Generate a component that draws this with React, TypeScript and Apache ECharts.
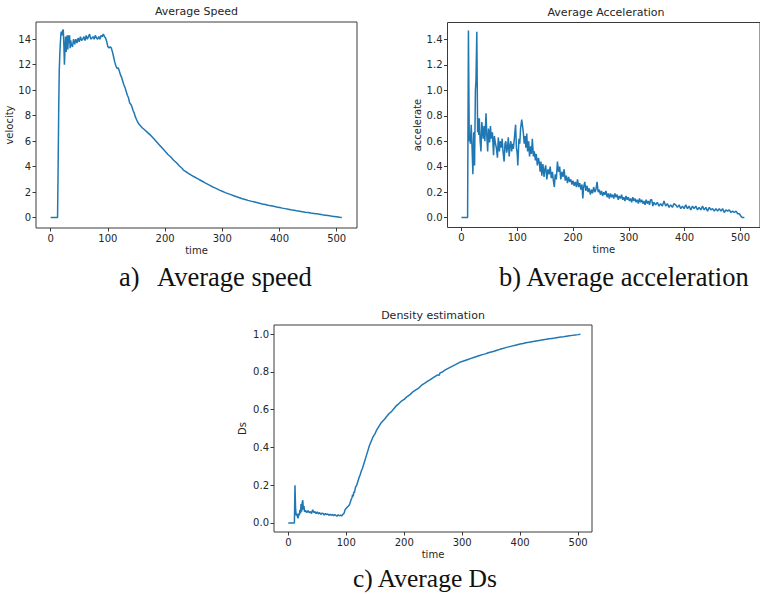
import React, { useEffect, useRef } from "react";
import * as echarts from "echarts";

// time vs average speed
const speedSeries: [number, number][] = [
  [0, 0], [6, 0], [12, 0], [13, 4], [14, 8.5], [15, 11.6], [16, 12.9], [17, 13.8], [18, 14.5], [19, 14.6],
  [20, 14.3], [21, 14.7], [22, 14.75], [23, 13.6], [24, 12.0], [25, 13.2], [26, 14.2], [27, 13.0], [28, 13.7],
  [29, 14.3], [30, 13.2], [31, 14.3], [32, 13.7], [33, 14.3], [34, 13.3], [35, 13.9], [36, 13.6], [38, 13.4],
  [40, 14.0], [42, 13.6], [44, 14.0], [46, 13.7], [48, 14.1], [50, 13.8], [52, 14.2], [54, 13.9], [56, 14.0],
  [58, 14.2], [60, 13.9], [62, 14.3], [64, 14.0], [66, 14.2], [68, 14.4], [70, 14.0], [72, 14.1], [74, 14.2],
  [76, 14.0], [78, 14.3], [80, 14.1], [82, 14.0], [84, 14.2], [86, 14.0], [88, 14.3], [90, 14.2], [92, 14.4],
  [94, 14.2], [96, 14.1], [98, 13.8], [100, 13.4], [102, 13.3], [104, 13.4], [106, 13.3], [108, 13.0],
  [110, 12.6], [112, 12.2], [114, 11.9], [116, 11.7], [118, 11.75], [120, 11.5], [122, 11.2], [124, 11.0],
  [126, 10.7], [128, 10.4], [130, 10.2], [132, 9.9], [134, 9.6], [136, 9.4], [138, 9.0], [140, 8.9], [142, 8.7],
  [144, 8.4], [146, 8.2], [148, 7.9], [150, 7.7], [152, 7.5], [155, 7.3], [158, 7.15], [160, 7.05], [165, 6.85],
  [170, 6.65], [175, 6.45], [180, 6.2], [185, 5.95], [190, 5.7], [195, 5.45], [200, 5.2], [205, 4.95], [210, 4.75],
  [215, 4.5], [220, 4.3], [225, 4.05], [230, 3.85], [232, 3.72], [235, 3.65], [240, 3.48], [245, 3.35], [250, 3.22],
  [255, 3.1], [260, 2.97], [265, 2.85], [270, 2.72], [275, 2.6], [280, 2.48], [285, 2.37], [290, 2.27], [295, 2.15],
  [300, 2.06], [305, 1.96], [310, 1.88], [315, 1.8], [320, 1.71], [325, 1.63], [330, 1.56], [335, 1.48], [340, 1.42],
  [345, 1.35], [350, 1.29], [355, 1.24], [360, 1.18], [365, 1.12], [370, 1.07], [375, 1.03], [380, 0.97], [385, 0.93],
  [390, 0.88], [395, 0.83], [400, 0.79], [405, 0.74], [410, 0.7], [415, 0.66], [420, 0.61], [425, 0.57], [430, 0.53],
  [435, 0.5], [440, 0.46], [445, 0.42], [450, 0.39], [455, 0.35], [460, 0.32], [465, 0.29], [470, 0.26], [475, 0.22],
  [480, 0.19], [485, 0.16], [490, 0.12], [495, 0.09], [500, 0.06], [505, 0.02], [509, 0.0],
];

// time vs average acceleration
const accelSeries: [number, number][] = [
  [0, 0], [5, 0], [11, 0], [12.5, 1.47], [14, 0.6], [15, 0.65], [16, 0.58], [17.5, 0.73], [19, 0.55], [20.5, 0.34],
  [22, 0.67], [23.5, 0.41], [25, 1.0], [26, 1.07], [27.5, 1.46], [29, 0.67], [30, 0.78], [31, 0.65], [32, 0.78],
  [33.5, 0.6], [35, 0.52], [36.5, 0.75], [38, 0.68], [39, 0.62], [40.5, 0.72], [42, 0.6], [44, 0.82], [45.5, 0.64],
  [47, 0.52], [48.5, 0.7], [50.5, 0.59], [52, 0.72], [53.5, 0.62], [55.5, 0.67], [57.5, 0.49], [59, 0.64],
  [61, 0.58], [62.5, 0.55], [64.5, 0.47], [66, 0.63], [68, 0.52], [69.5, 0.6], [71.5, 0.55], [73, 0.62],
  [74.5, 0.52], [76.5, 0.44], [78, 0.58], [79.5, 0.6], [81, 0.51], [82.5, 0.55], [84, 0.63], [85.5, 0.48],
  [87, 0.56], [88.5, 0.6], [90, 0.52], [91.5, 0.58], [93, 0.54], [95, 0.63], [97, 0.73], [98.5, 0.55], [100, 0.5],
  [101, 0.41], [103, 0.62], [104.5, 0.58], [106, 0.7], [108, 0.77], [109.5, 0.72], [111, 0.66], [112.5, 0.58],
  [114, 0.64], [115.5, 0.55], [117, 0.66], [118.5, 0.52], [120.5, 0.6], [122, 0.48], [124, 0.56], [125.5, 0.5],
  [127, 0.62], [129, 0.48], [130.5, 0.52], [132.5, 0.45], [134, 0.5], [136, 0.41], [138, 0.47], [139.5, 0.43],
  [141, 0.36], [142.5, 0.44], [144, 0.33], [146, 0.42], [148, 0.32], [149.5, 0.38], [151, 0.41], [153, 0.3],
  [155, 0.38], [157, 0.34], [159, 0.4], [161, 0.31], [163, 0.36], [165, 0.28], [166.5, 0.24], [168, 0.34],
  [170, 0.3], [172, 0.44], [174, 0.36], [176, 0.4], [178, 0.3], [180, 0.36], [182, 0.32], [184, 0.38], [186, 0.29],
  [188, 0.33], [190, 0.27], [192, 0.32], [194, 0.28], [196, 0.3], [198, 0.26], [200, 0.29], [202, 0.25],
  [204, 0.28], [206, 0.24], [208, 0.3], [210, 0.24], [212, 0.27], [214, 0.22], [216, 0.26], [217.5, 0.15],
  [219, 0.24], [221, 0.28], [223, 0.21], [225, 0.25], [227, 0.2], [229, 0.23], [231, 0.18], [233, 0.22],
  [235, 0.19], [237, 0.24], [239, 0.2], [241, 0.22], [243, 0.28], [245, 0.2], [247, 0.22], [249, 0.18],
  [251, 0.21], [253, 0.17], [255, 0.2], [257, 0.18], [259, 0.21], [261, 0.16], [263, 0.19], [265, 0.15],
  [267, 0.19], [269, 0.16], [271, 0.18], [273, 0.15], [275, 0.19], [277, 0.16], [279, 0.18], [281, 0.14],
  [283, 0.17], [285, 0.15], [287, 0.18], [289, 0.14], [291, 0.16], [293, 0.13], [295, 0.17], [297, 0.14],
  [299, 0.16], [301, 0.13], [303, 0.15], [305, 0.12], [307, 0.16], [309, 0.13], [311, 0.15], [313, 0.12],
  [315, 0.14], [317, 0.11], [319, 0.15], [321, 0.12], [323, 0.14], [325, 0.11], [327, 0.13], [329, 0.1],
  [331, 0.14], [333, 0.11], [335, 0.13], [337, 0.1], [339, 0.14], [341, 0.14], [343, 0.09], [345, 0.12],
  [348, 0.1], [351, 0.12], [354, 0.09], [357, 0.11], [360, 0.09], [363, 0.13], [366, 0.09], [369, 0.11],
  [372, 0.08], [375, 0.1], [378, 0.08], [381, 0.11], [384, 0.1], [387, 0.08], [390, 0.1], [393, 0.07],
  [396, 0.09], [399, 0.07], [402, 0.1], [405, 0.07], [408, 0.09], [411, 0.06], [414, 0.09], [417, 0.07],
  [420, 0.09], [423, 0.06], [426, 0.08], [429, 0.06], [432, 0.09], [435, 0.06], [438, 0.08], [441, 0.05],
  [444, 0.08], [447, 0.06], [450, 0.07], [453, 0.05], [456, 0.07], [459, 0.05], [462, 0.07], [465, 0.05],
  [468, 0.07], [471, 0.04], [474, 0.06], [477, 0.05], [480, 0.06], [483, 0.04], [486, 0.05], [489, 0.04],
  [492, 0.05], [495, 0.03], [498, 0.03], [501, 0.01], [503, 0], [507, 0],
];

// time vs density estimation (Ds)
const densitySeries: [number, number][] = [
  [0, 0], [5, 0], [10.5, 0], [11.5, 0.2], [12.5, 0.08], [13.5, 0.04], [15, 0.05], [16, 0.03], [17, 0.026],
  [18, 0.05], [19, 0.04], [20, 0.07], [21, 0.05], [22, 0.1], [23, 0.06], [24, 0.11], [25, 0.12], [26, 0.07],
  [27, 0.09], [28, 0.06], [30, 0.065], [32, 0.055], [34, 0.065], [36, 0.055], [38, 0.06], [40, 0.05], [42, 0.07],
  [44, 0.055], [46, 0.06], [48, 0.05], [50, 0.058], [52, 0.048], [54, 0.055], [56, 0.045], [58, 0.052],
  [60, 0.05], [62, 0.042], [64, 0.05], [66, 0.044], [68, 0.048], [70, 0.04], [72, 0.046], [74, 0.042],
  [76, 0.045], [78, 0.038], [80, 0.044], [82, 0.04], [84, 0.036], [86, 0.043], [88, 0.038], [90, 0.042],
  [92, 0.037], [94, 0.045], [96, 0.05], [98, 0.07], [100, 0.078], [102, 0.085], [104, 0.09], [106, 0.1],
  [108, 0.12], [110, 0.135], [111, 0.15], [112, 0.14], [113, 0.165], [114, 0.16], [116, 0.19], [118, 0.2],
  [120, 0.22], [122, 0.24], [124, 0.255], [126, 0.275], [128, 0.29], [130, 0.31], [132, 0.33], [134, 0.35],
  [136, 0.37], [138, 0.39], [140, 0.41], [142, 0.425], [144, 0.44], [146, 0.455], [148, 0.465], [150, 0.475],
  [152, 0.49], [155, 0.505], [158, 0.52], [160, 0.53], [163, 0.54], [166, 0.55], [170, 0.565], [174, 0.58],
  [178, 0.59], [182, 0.605], [186, 0.62], [190, 0.63], [195, 0.645], [200, 0.655], [205, 0.67], [210, 0.68],
  [215, 0.695], [220, 0.705], [225, 0.715], [230, 0.73], [235, 0.74], [240, 0.75], [245, 0.76], [250, 0.77],
  [255, 0.78], [258, 0.785], [260, 0.782], [262, 0.795], [266, 0.8], [270, 0.81], [275, 0.818], [280, 0.826],
  [285, 0.834], [290, 0.842], [295, 0.85], [300, 0.856], [305, 0.861], [310, 0.866], [315, 0.872], [320, 0.877],
  [325, 0.882], [330, 0.887], [335, 0.892], [340, 0.896], [345, 0.902], [350, 0.906], [355, 0.91], [360, 0.915],
  [365, 0.92], [370, 0.924], [375, 0.929], [380, 0.933], [385, 0.937], [390, 0.94], [395, 0.944], [400, 0.948],
  [405, 0.951], [410, 0.955], [415, 0.957], [420, 0.96], [425, 0.963], [430, 0.966], [435, 0.968], [440, 0.971],
  [445, 0.973], [450, 0.976], [455, 0.978], [460, 0.98], [465, 0.983], [470, 0.985], [475, 0.987], [480, 0.99],
  [485, 0.992], [490, 0.994], [495, 0.996], [500, 0.998], [504, 1.0],
];

const timeTicks = [0, 100, 200, 300, 400, 500];
const speedTicks = [0, 2, 4, 6, 8, 10, 12, 14];
const accelTicks = [0, 0.2, 0.4, 0.6, 0.8, 1.0, 1.2, 1.4];
const densityTicks = [0, 0.2, 0.4, 0.6, 0.8, 1.0];

const titles = ["Average Speed", "Average Acceleration", "Density estimation"];
const yNames = ["velocity", "accelerate", "Ds"];
const xName = "time";

const LINE = "#1f77b4";
const INK = "#262626";
const SPINE = "#3a3a3a";
const SANS = '"DejaVu Sans", sans-serif';
const SERIF = '"Liberation Serif", "Times New Roman", serif';

const panels = [
  {
    data: speedSeries, yTicks: speedTicks, decimals: 0,
    grid: { left: 36, top: 22, width: 321, height: 206 },
    xMin: -25.7, xMax: 535.5, yMin: -0.82, yMax: 15.35, yNameGap: 22,
    titleX: 196.5, titleY: 11,
  },
  {
    data: accelSeries, yTicks: accelTicks, decimals: 1,
    grid: { left: 447.5, top: 22.5, width: 317.5, height: 205 },
    xMin: -25, xMax: 535, yMin: -0.078, yMax: 1.533, yNameGap: 24,
    titleX: 606, titleY: 12,
  },
  {
    data: densitySeries, yTicks: densityTicks, decimals: 1,
    grid: { left: 274, top: 325, width: 318, height: 207 },
    xMin: -24.7, xMax: 524, yMin: -0.048, yMax: 1.049, yNameGap: 27,
    titleX: 433, titleY: 315,
  },
];

export default function App() {
  const ref = useRef<HTMLDivElement>(null);
  useEffect(() => {
    if (!ref.current) return;
    const chart = echarts.init(ref.current, null, { renderer: "svg" });
    const option: any = {
      animation: false,
      backgroundColor: "#ffffff",
      grid: panels.map((p) => ({
        ...p.grid,
        show: true,
        borderColor: SPINE,
        borderWidth: 1,
        backgroundColor: "transparent",
        containLabel: false,
      })),
      xAxis: panels.map((p, i) => ({
        type: "value",
        gridIndex: i,
        position: "bottom",
        min: p.xMin,
        max: p.xMax,
        name: xName,
        nameLocation: "middle",
        nameGap: 17,
        nameTextStyle: { fontSize: 10, fontFamily: SANS, color: INK },
        axisLine: { show: false, onZero: false },
        splitLine: { show: false },
        axisTick: { show: true, length: 3.5, inside: false, customValues: timeTicks, lineStyle: { color: SPINE, width: 1 } },
        axisLabel: {
          show: true, margin: 5, customValues: timeTicks,
          fontSize: 10, fontFamily: SANS, color: INK,
          formatter: (v: number) => String(Math.round(v)),
        },
      })),
      yAxis: panels.map((p, i) => ({
        type: "value",
        gridIndex: i,
        position: "left",
        min: p.yMin,
        max: p.yMax,
        name: yNames[i],
        nameLocation: "middle",
        nameRotate: 90,
        nameGap: p.yNameGap,
        nameTextStyle: { fontSize: 10, fontFamily: SANS, color: INK },
        axisLine: { show: false, onZero: false },
        splitLine: { show: false },
        axisTick: { show: true, length: 3.5, inside: false, customValues: p.yTicks, lineStyle: { color: SPINE, width: 1 } },
        axisLabel: {
          show: true, margin: 5, customValues: p.yTicks,
          fontSize: 10, fontFamily: SANS, color: INK,
          formatter: (v: number) => v.toFixed(p.decimals),
        },
      })),
      series: panels.map((p, i) => ({
        type: "line",
        xAxisIndex: i,
        yAxisIndex: i,
        data: p.data,
        showSymbol: false,
        symbol: "none",
        lineStyle: { color: LINE, width: 1.5 },
        silent: true,
      })),
      graphic: [
        ...panels.map((p, i) => ({
          type: "text",
          x: p.titleX,
          y: p.titleY,
          style: {
            text: titles[i], fontSize: 11, fontFamily: SANS, fill: INK,
            align: "center", verticalAlign: "middle",
          },
        })),
        { type: "text", x: 119, y: 277, style: { text: "a)", fontSize: 26.5, fontFamily: SERIF, fill: "#111", align: "left", verticalAlign: "middle" } },
        { type: "text", x: 157, y: 277, style: { text: "Average speed", fontSize: 26.5, fontFamily: SERIF, fill: "#111", align: "left", verticalAlign: "middle" } },
        { type: "text", x: 499, y: 277, style: { text: "b) Average acceleration", fontSize: 26.5, fontFamily: SERIF, fill: "#111", align: "left", verticalAlign: "middle" } },
        { type: "text", x: 353, y: 578, style: { text: "c) Average Ds", fontSize: 25.5, fontFamily: SERIF, fill: "#111", align: "left", verticalAlign: "middle" } },
      ],
    };
    chart.setOption(option);
    return () => chart.dispose();
  }, []);
  return (
    <div
      ref={ref}
      style={{ position: "absolute", left: 0, top: 0, width: 760, height: 594, background: "#fff" }}
    />
  );
}
